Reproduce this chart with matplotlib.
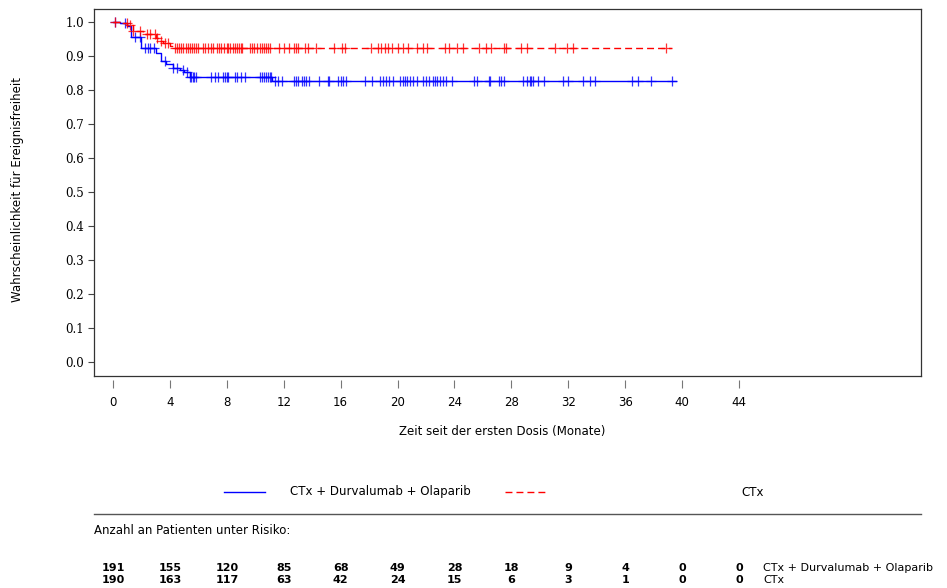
import matplotlib
matplotlib.use("Agg")
import matplotlib.pyplot as plt
import numpy as np
from matplotlib.lines import Line2D

plt.rcParams['font.family'] = ['DejaVu Sans']

# ---------------- data ----------------
blue_name = "CTx + Durvalumab + Olaparib"
red_name = "CTx"

blue_t = [0, 0.5, 1.0, 1.3, 2.0, 3.0, 3.4, 3.75, 4.2, 4.7, 5.0, 5.4, 11.2, 39.6]
blue_s = [1.0, 0.996, 0.988, 0.956, 0.923, 0.908, 0.884, 0.876, 0.866, 0.859, 0.852, 0.837, 0.825, 0.825]

red_t = [0, 0.5, 1.0, 1.4, 2.1, 3.0, 3.2, 3.5, 4.0, 4.35, 39.3]
red_s = [1.0, 0.996, 0.990, 0.974, 0.964, 0.954, 0.944, 0.939, 0.929, 0.922, 0.922]

blue_cens = [0.15, 0.85, 1.55, 1.9, 2.25, 2.45, 2.6, 2.9, 3.65, 4.2, 4.5, 4.9, 5.2, 5.4, 5.5,
             5.6, 5.7, 5.8, 6.9, 7.2, 7.4, 7.7, 7.85, 8.0, 8.1, 8.6, 8.7, 9.0, 9.3, 10.3,
             10.45, 10.6, 10.75, 10.9, 11.0, 11.1, 11.4, 11.6, 11.9, 12.7, 12.85, 13.0, 13.3,
             13.45, 13.6, 13.8, 14.5, 15.1, 15.2, 15.8, 16.0, 16.2, 16.4, 17.7, 18.2, 18.8,
             19.0, 19.2, 19.4, 19.7, 20.2, 20.35, 20.5, 20.65, 20.9, 21.1, 21.4, 21.8, 22.0,
             22.2, 22.5, 22.65, 22.8, 23.0, 23.2, 23.4, 23.8, 25.4, 25.6, 26.4, 26.5, 27.1,
             27.3, 27.5, 28.8, 29.1, 29.3, 29.4, 29.5, 29.9, 30.3, 31.6, 32.0, 33.0, 33.5,
             33.9, 36.5, 36.9, 37.8, 39.3]

red_cens = [0.15, 0.95, 1.2, 1.4, 1.9, 2.4, 2.6, 2.95, 3.1, 3.4, 3.65, 3.9, 4.35, 4.5, 4.65,
            4.8, 4.95, 5.1, 5.25, 5.4, 5.55, 5.7, 5.85, 6.0, 6.3, 6.5, 6.7, 6.9, 7.0, 7.3,
            7.45, 7.6, 7.8, 8.0, 8.1, 8.25, 8.4, 8.55, 8.7, 8.85, 9.0, 9.1, 9.6, 9.75, 9.9,
            10.1, 10.3, 10.5, 10.6, 10.75, 10.9, 11.0, 11.7, 12.0, 12.4, 12.7, 12.85, 13.0,
            13.5, 13.7, 14.3, 15.5, 16.1, 16.3, 18.1, 18.6, 18.85, 19.1, 19.35, 19.6, 20.0,
            20.4, 20.7, 21.4, 21.8, 22.1, 23.3, 23.6, 24.2, 24.6, 25.7, 26.2, 26.6, 27.5,
            27.6, 28.7, 29.1, 31.1, 31.9, 32.3, 38.9]

x_ticks = [0, 4, 8, 12, 16, 20, 24, 28, 32, 36, 40, 44]
y_ticks = [0.0, 0.1, 0.2, 0.3, 0.4, 0.5, 0.6, 0.7, 0.8, 0.9, 1.0]
risk_blue = [191, 155, 120, 85, 68, 49, 28, 18, 9, 4, 0, 0]
risk_red = [190, 163, 117, 63, 42, 24, 15, 6, 3, 1, 0, 0]

# ---------------- figure ----------------
W, H = 947, 588
fig = plt.figure(figsize=(W / 100, H / 100), dpi=100)

def fx(px):
    return px / W

def fy(py):
    return 1 - py / H

ax = fig.add_axes([fx(94), fy(376), fx(921) - fx(94), fy(9) - fy(376)])
ax.set_xlim(-1.335, 56.79)
ax.set_ylim(-0.0405, 1.038)

def step_at(ts, ss, x):
    idx = np.searchsorted(ts, x, side='right') - 1
    return np.asarray(ss)[idx]

BLUE = '#0000ff'
RED = '#ff0000'

ax.step(blue_t, blue_s, where='post', color=BLUE, lw=1.0)
ax.plot(blue_cens, step_at(blue_t, blue_s, blue_cens), ls='none', marker='+',
        ms=7.5, mew=0.9, color=BLUE, alpha=0.8)

ax.step(red_t, red_s, where='post', color=RED, lw=1.0, linestyle=(0, (5.0, 2.9)))
ax.plot(red_cens, step_at(red_t, red_s, red_cens), ls='none', marker='+',
        ms=7.5, mew=0.9, color=RED, alpha=0.8)

for s in ax.spines.values():
    s.set_linewidth(0.9)
    s.set_color('#333333')

ax.set_yticks(y_ticks)
ax.set_yticklabels([f"{v:.1f}" for v in y_ticks], fontsize=8.5, family='DejaVu Serif')
ax.tick_params(axis='y', direction='out', length=4, width=0.8, color='#444444', pad=3)
ax.set_xticks([])

sec = ax.secondary_xaxis(-0.012)
sec.set_xticks(x_ticks)
sec.set_xticklabels([str(v) for v in x_ticks], fontsize=8.5)
sec.tick_params(axis='x', direction='out', length=6, width=0.8, color='#777777', pad=5)
sec.spines['bottom'].set_visible(False)

fig.text(fx(18), fy(190), "Wahrscheinlichkeit für Ereignisfreiheit", rotation=90,
         ha='center', va='center', fontsize=8.5)
fig.text(fx(502), fy(432), "Zeit seit der ersten Dosis (Monate)", ha='center',
         va='center', fontsize=8.5)

# legend
fig.add_artist(Line2D([fx(224), fx(265)], [fy(492), fy(492)], color=BLUE, lw=1.0))
fig.text(fx(290), fy(492), blue_name, ha='left', va='center', fontsize=8.5)
fig.add_artist(Line2D([fx(505), fx(547)], [fy(492), fy(492)], color=RED, lw=1.0,
                      linestyle=(0, (5.0, 2.9))))
fig.text(fx(741), fy(492), red_name, ha='left', va='center', fontsize=8.5)

fig.add_artist(Line2D([fx(94), fx(921)], [fy(514), fy(514)], color='#555555', lw=1.0))
fig.text(fx(94), fy(531), "Anzahl an Patienten unter Risiko:", ha='left', va='center',
         fontsize=8.5)

# number at risk table, placed using the axes x scale
trans = matplotlib.transforms.blended_transform_factory(ax.transData, fig.transFigure)
ROW1, ROW2 = 568, 580
for xv, nb, nr in zip(x_ticks, risk_blue, risk_red):
    ax.text(xv, fy(ROW1), str(nb), transform=trans, ha='center', va='center',
            fontsize=8, fontweight='bold', clip_on=False)
    ax.text(xv, fy(ROW2), str(nr), transform=trans, ha='center', va='center',
            fontsize=8, fontweight='bold', clip_on=False)
fig.text(fx(763), fy(ROW1), blue_name, ha='left', va='center', fontsize=8)
fig.text(fx(763), fy(ROW2), red_name, ha='left', va='center', fontsize=8)

fig.savefig("out.png", dpi=100)
